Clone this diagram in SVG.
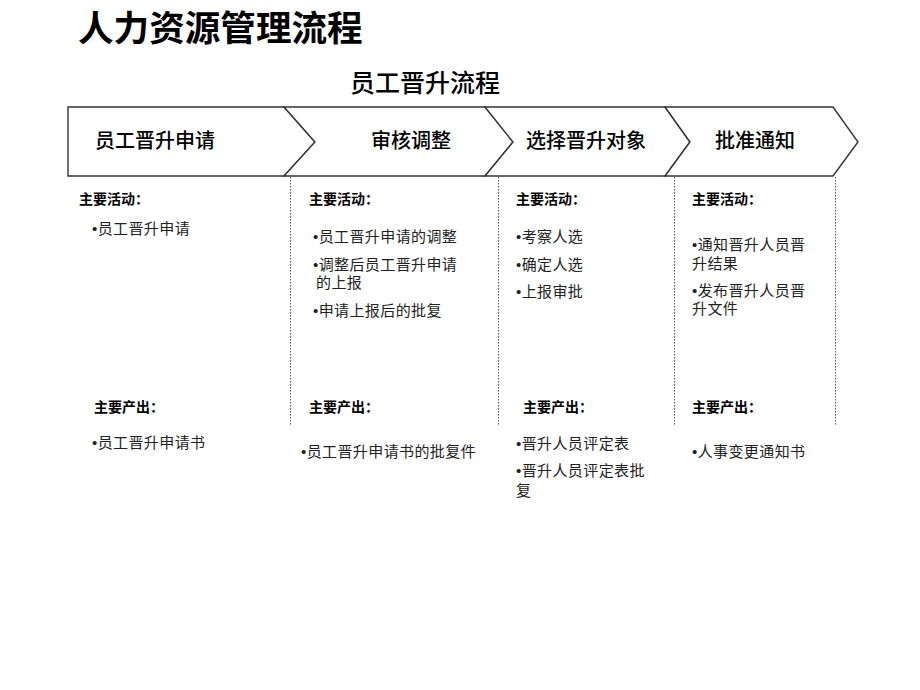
<svg xmlns="http://www.w3.org/2000/svg" width="920" height="690" viewBox="0 0 920 690">
<style>
.t{font-family:"Noto Sans CJK SC","Noto Sans",sans-serif;fill:#000}
.title{font-size:35.6px;font-weight:bold}
.sub{font-size:25px;font-weight:500}
.lbl{font-size:20px;font-weight:500}
.hd{font-size:14px;font-weight:bold}
.it{font-size:15px;fill:#222;letter-spacing:0.4px}
.b{font-family:"Liberation Sans",sans-serif}
.chev{fill:#fff;stroke:#333;stroke-width:1.4}
.sep{stroke:#555;stroke-width:1;stroke-dasharray:1.5 1.5;fill:none}
</style>
<rect width="920" height="690" fill="#fff"/>
<text class="t title" x="78" y="41">人力资源管理流程</text>
<text class="t sub" x="350" y="92">员工晋升流程</text>

<g id="step1">
<polygon class="chev" points="68,107 284,107 315,142 284,176 68,176"/>
<text class="t lbl" x="95" y="148">员工晋升申请</text>
</g>
<g id="step2">
<polygon class="chev" points="284,107 485,107 513,142 485,176 284,176 315,142"/>
<text class="t lbl" x="371" y="148">审核调整</text>
</g>
<g id="step3">
<polygon class="chev" points="485,107 665,107 690,142 665,176 485,176 513,142"/>
<text class="t lbl" x="526" y="148">选择晋升对象</text>
</g>
<g id="step4">
<polygon class="chev" points="665,107 833,107 858,142 833,176 665,176 690,142"/>
<text class="t lbl" x="715" y="148">批准通知</text>
</g>

<g id="separators">
<line class="sep" x1="290.5" y1="177" x2="290.5" y2="426"/>
<line class="sep" x1="498.5" y1="177" x2="498.5" y2="426"/>
<line class="sep" x1="674.5" y1="177" x2="674.5" y2="426"/>
<line class="sep" x1="835.5" y1="177" x2="835.5" y2="426"/>
</g>

<g id="col1">
<text class="t hd" x="79" y="204">主要活动：</text>
<text class="t it" x="92" y="234"><tspan class="b">•</tspan>员工晋升申请</text>
<text class="t hd" x="94" y="412">主要产出：</text>
<text class="t it" x="92" y="448"><tspan class="b">•</tspan>员工晋升申请书</text>
</g>
<g id="col2">
<text class="t hd" x="309" y="204">主要活动：</text>
<text class="t it" x="313" y="242"><tspan class="b">•</tspan>员工晋升申请的调整</text>
<text class="t it" x="313" y="270"><tspan class="b">•</tspan>调整后员工晋升申请<tspan x="316" dy="18">的上报</tspan></text>
<text class="t it" x="313" y="316"><tspan class="b">•</tspan>申请上报后的批复</text>
<text class="t hd" x="309" y="412">主要产出：</text>
<text class="t it" x="301" y="457"><tspan class="b">•</tspan>员工晋升申请书的批复件</text>
</g>
<g id="col3">
<text class="t hd" x="516" y="204">主要活动：</text>
<text class="t it" x="516" y="242"><tspan class="b">•</tspan>考察人选</text>
<text class="t it" x="516" y="270"><tspan class="b">•</tspan>确定人选</text>
<text class="t it" x="516" y="297"><tspan class="b">•</tspan>上报审批</text>
<text class="t hd" x="523" y="412">主要产出：</text>
<text class="t it" x="516" y="449"><tspan class="b">•</tspan>晋升人员评定表</text>
<text class="t it" x="516" y="476"><tspan class="b">•</tspan>晋升人员评定表批<tspan x="516" dy="20">复</tspan></text>
</g>
<g id="col4">
<text class="t hd" x="692" y="204">主要活动：</text>
<text class="t it" x="692" y="250"><tspan class="b">•</tspan>通知晋升人员晋<tspan x="692" dy="19">升结果</tspan></text>
<text class="t it" x="692" y="296"><tspan class="b">•</tspan>发布晋升人员晋<tspan x="692" dy="18">升文件</tspan></text>
<text class="t hd" x="692" y="412">主要产出：</text>
<text class="t it" x="692" y="457"><tspan class="b">•</tspan>人事变更通知书</text>
</g>
</svg>
